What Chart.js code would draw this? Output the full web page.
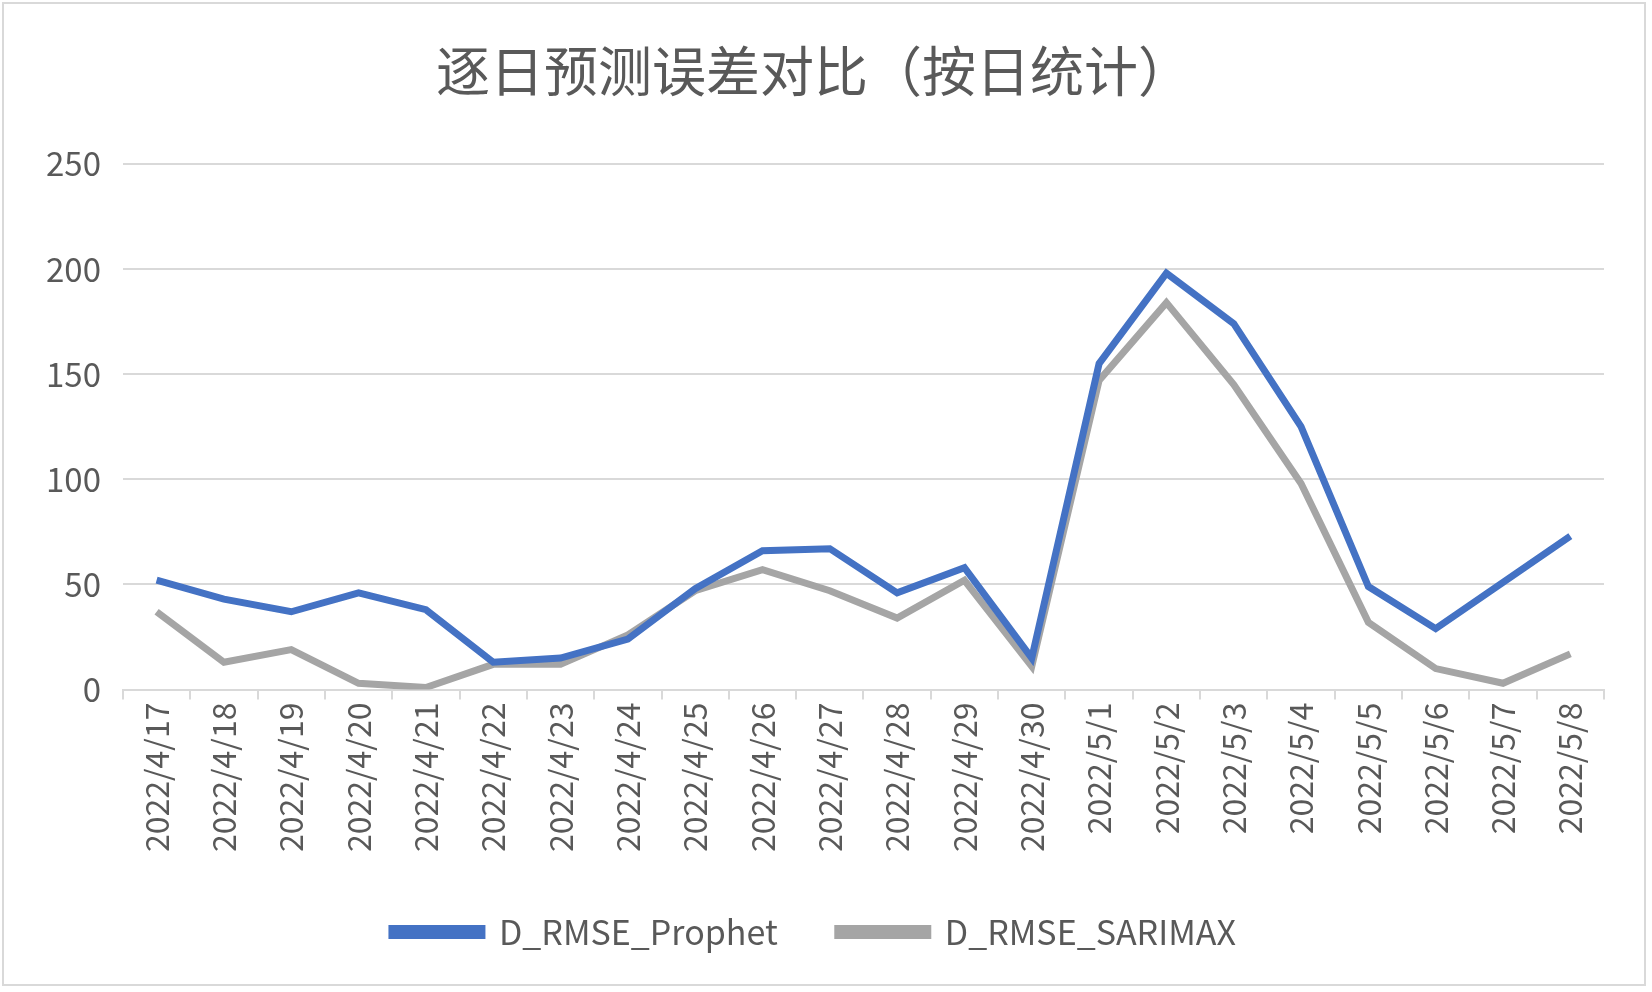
<!DOCTYPE html>
<html>
<head>
<meta charset="utf-8">
<script src="https://cdn.jsdelivr.net/npm/chart.js@4"></script>
<style>
  html, body { margin: 0; padding: 0; background: #fff; }
  #wrap { position: absolute; left: 2px; top: 2px; width: 1644px; height: 984px; border: 2px solid #d9d9d9; box-sizing: border-box; }
</style>
</head>
<body>
<div id="wrap"><canvas id="chart"></canvas></div>
<script>
const dates = ['2022/4/17', '2022/4/18', '2022/4/19', '2022/4/20', '2022/4/21', '2022/4/22', '2022/4/23', '2022/4/24',
    '2022/4/25', '2022/4/26', '2022/4/27', '2022/4/28', '2022/4/29', '2022/4/30', '2022/5/1', '2022/5/2',
    '2022/5/3', '2022/5/4', '2022/5/5', '2022/5/6', '2022/5/7', '2022/5/8'];
const prophet = [52, 43, 37, 46, 38, 13, 15, 24, 48, 66, 67, 46, 58, 15, 155, 198, 174, 125, 49, 29, 51, 73];
const sarimax = [37, 13, 19, 3, 1, 12, 12, 26, 47, 57, 47, 34, 52, 11, 147, 184, 145, 98, 32, 10, 3, 17];

const font = "'Noto Sans CJK SC', 'Noto Sans', sans-serif";
const ctx = document.getElementById('chart').getContext('2d');
new Chart(ctx, {
    type: 'line',
    data: {
        labels: dates,
        datasets: [{
            label: 'D_RMSE_Prophet',
            data: prophet,
            borderColor: '#4472c4',
            backgroundColor: '#4472c4',
            borderWidth: 7,
            pointRadius: 0,
        }, {
            label: 'D_RMSE_SARIMAX',
            data: sarimax,
            borderColor: '#a5a5a5',
            backgroundColor: '#a5a5a5',
            borderWidth: 7,
            pointRadius: 0,
        }],
    },
    options: {
        responsive: true,
        maintainAspectRatio: false,
        animation: false,
        layout: { padding: { left: 20, right: 40, top: 20, bottom: 25 } },
        plugins: {
            title: {
                display: true,
                text: '逐日预测误差对比（按日统计）',
                color: '#595959',
                font: { family: font, size: 54, weight: 'normal' },
                padding: { top: 15, bottom: 60 },
            },
            legend: {
                position: 'bottom',
                labels: {
                    color: '#595959',
                    font: { family: font, size: 34 },
                    boxWidth: 90,
                    boxHeight: 7,
                    padding: 60,
                },
            },
        },
        scales: {
            y: {
                min: 0,
                max: 250,
                ticks: { stepSize: 50, color: '#595959', font: { family: font, size: 33 }, padding: 22 },
                grid: { color: '#d9d9d9', lineWidth: 2, drawTicks: false },
                border: { display: false },
            },
            x: {
                offset: true,
                ticks: { color: '#595959', font: { family: font, size: 32 }, maxRotation: 90, minRotation: 90, autoSkip: false },
                grid: { offset: true, drawOnChartArea: false, drawTicks: true, tickLength: 10, tickColor: '#d9d9d9', lineWidth: 2 },
                border: { color: '#d9d9d9', width: 2 },
            },
        },
    },
});
</script>
</body>
</html>
